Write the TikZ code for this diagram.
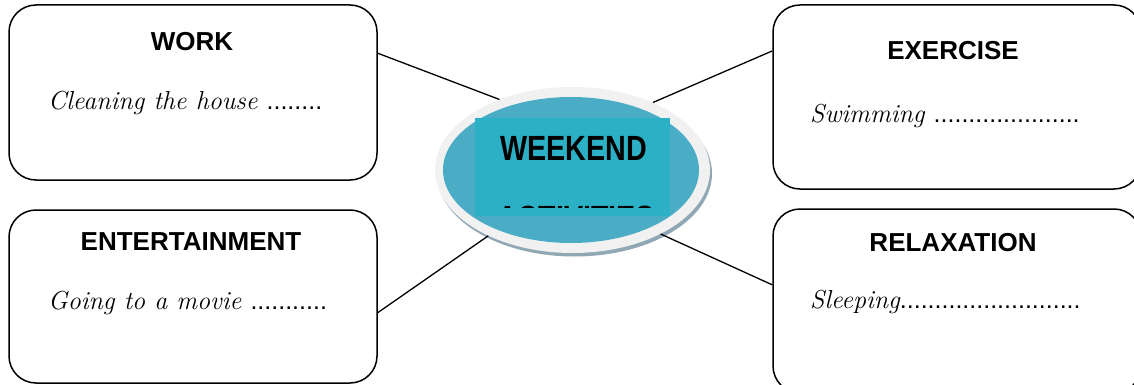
\documentclass[tikz,border=0pt]{standalone}
\usepackage{fontspec}
\setmainfont{Liberation Sans}
\newfontfamily\hubfont[FakeStretch=0.82]{Liberation Sans}
\newfontfamily\handfont{Latin Modern Roman}
\usetikzlibrary{shapes.geometric}
\definecolor{hubblue}{RGB}{75,172,198}
\definecolor{hubteal}{RGB}{44,176,197}
\definecolor{ringgray}{RGB}{241,241,241}
\definecolor{shadowgray}{RGB}{143,168,180}

\begin{document}
\begin{tikzpicture}[x=1pt,y=-1pt,
  topic/.style={draw,line width=1.5pt,rounded corners=27pt,minimum width=368pt,inner sep=0pt},
  title/.style={font=\bfseries\fontsize{26}{30}\selectfont,anchor=base},
  entry/.style={font=\handfont\itshape\fontsize{26}{30}\selectfont,anchor=base west,inner sep=0pt},
  link/.style={line width=1.3pt}]
 \path[use as bounding box] (0,0) rectangle (1134,385);
 \clip (0,0) rectangle (1134,385);
 % the four boxes
 \node[topic,minimum height=175pt] (work) at (193,92.5) {};
 \node[topic,minimum height=173pt] (ent)  at (193,296.5) {};
 \node[topic,minimum height=184pt] (ex)   at (957,97) {};
 \node[topic,minimum height=184pt] (relax) at (957,301) {};
 \node[title] (workt)  at (192,51)  {WORK};
 \node[title] (entt)   at (191,250) {ENTERTAINMENT};
 \node[title] (ext)    at (953,60)  {EXERCISE};
 \node[title] (relaxt) at (953,251) {RELAXATION};
 \node[entry] (works)  at (48,110)  {Cleaning the house {\rmfamily\upshape\fontsize{25}{28}\selectfont........}};
 \node[entry] (ents)   at (48,309)  {Going to a movie {\rmfamily\upshape\fontsize{25}{28}\selectfont...........}};
 \node[entry] (exs)    at (810,122) {Swimming {\rmfamily\upshape\fontsize{25}{28}\selectfont.....................}};
 \node[entry] (relaxs) at (810,308) {Sleeping{\rmfamily\upshape\fontsize{25}{28}\selectfont..........................}};
 % centre
 \node[ellipse,fill=shadowgray,minimum width=275pt,minimum height=166pt,inner sep=0pt] (shade) at (574.5,173.5) {};
 \node[ellipse,fill=ringgray,minimum width=275pt,minimum height=166pt,inner sep=0pt] (hub) at (572.5,170) {};
 \node[ellipse,fill=hubblue,minimum width=256pt,minimum height=146pt,inner sep=0pt] (core) at (571,170) {};
 \fill[hubteal] (475,118) rectangle (670,216);
 \node[font=\hubfont\bfseries\fontsize{35}{40}\selectfont,anchor=base] (weekend) at (573.5,160) {WEEKEND};
 \begin{scope}
  \clip (475,118) rectangle (670,207.5);
  \node[font=\hubfont\bfseries\fontsize{35}{40}\selectfont,anchor=base] (acts) at (576,230) {ACTIVITIES};
 \end{scope}
 % links
 \draw[link] (work.12)   -- (hub.136);
 \draw[link] (ex.166)    -- (hub.40);
 \draw[link] (ent.-5)    -- (hub.-142);
 \draw[link] (relax.175) -- (hub.-36);
\end{tikzpicture}
\end{document}
